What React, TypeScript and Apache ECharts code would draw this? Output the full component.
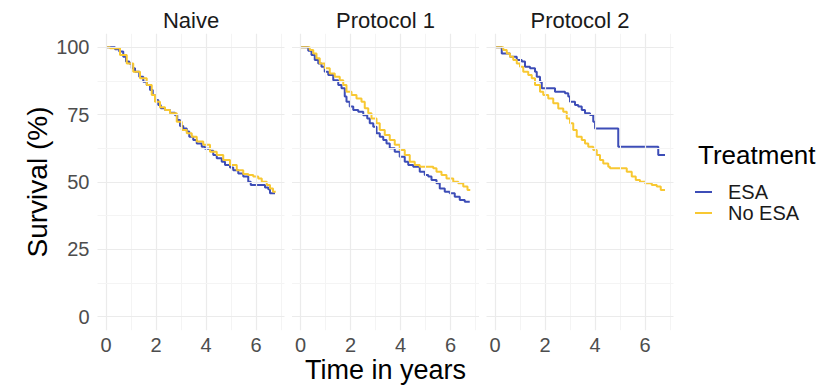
import React, { useEffect, useRef } from "react";
import * as echarts from "echarts";

const FONT = '"Liberation Sans", Arial, Helvetica, sans-serif';

const panels = ["Naive", "Protocol 1", "Protocol 2"];
const groups = ["ESA", "No ESA"];
const groupColors = ["#3D4DB7", "#F8C832"];

const xTicks = [0, 2, 4, 6];
const xMinor = [1, 3, 5, 7];
const yTicks = [0, 25, 50, 75, 100];
const yMinor = [12.5, 37.5, 62.5, 87.5];

// Kaplan-Meier steps: [time in years, survival %]
const naiveEsa = [
  [0, 100], [0.36, 99.3], [0.53, 98.4], [0.69, 96.5], [0.8, 94.7], [0.93, 94.0],
  [1.03, 92.2], [1.16, 90.9], [1.33, 89.1], [1.49, 87.2], [1.63, 86.0], [1.76, 84.1],
  [1.87, 82.3], [1.96, 80.4], [2.09, 78.6], [2.19, 77.4], [2.36, 76.7], [2.56, 75.7],
  [2.76, 74.8], [2.85, 73.0], [2.96, 70.8], [3.09, 69.9], [3.23, 68.7], [3.33, 66.8],
  [3.49, 65.6], [3.63, 64.3], [3.83, 63.1], [3.96, 62.3], [4.16, 61.6], [4.29, 60.0],
  [4.43, 58.8], [4.63, 57.5], [4.76, 56.3], [4.96, 55.4], [5.09, 54.4], [5.29, 53.2],
  [5.49, 52.0], [5.69, 50.1], [5.79, 48.9], [6.36, 48.0], [6.49, 47.3], [6.56, 45.8],
  [6.76, 45.8],
];
const naiveNoEsa = [
  [0, 100], [0.16, 99.6], [0.56, 97.1], [0.83, 94.0], [1.09, 90.9], [1.36, 88.5],
  [1.63, 86.0], [1.83, 82.3], [1.96, 79.8], [2.16, 77.7], [2.36, 76.7], [2.56, 75.5],
  [2.83, 72.4], [3.03, 69.3], [3.23, 68.1], [3.43, 66.8], [3.63, 65.0], [3.89, 63.8],
  [4.16, 61.2], [4.43, 60.0], [4.69, 58.2], [4.96, 56.3], [5.23, 54.4], [5.49, 53.0],
  [5.69, 52.6], [5.89, 52.0], [6.09, 51.3], [6.23, 50.1], [6.43, 48.9], [6.56, 47.6],
  [6.68, 46.4], [6.79, 46.4],
];
const p1Esa = [
  [0, 100], [0.31, 98.7], [0.44, 97.1], [0.57, 95.3], [0.71, 94.0], [0.84, 92.8],
  [0.97, 90.9], [1.11, 89.7], [1.31, 87.8], [1.51, 86.0], [1.64, 84.8], [1.77, 81.7],
  [1.84, 79.8], [1.97, 78.0], [2.11, 76.7], [2.31, 76.1], [2.51, 74.8], [2.67, 73.6],
  [2.77, 71.8], [2.91, 70.5], [3.04, 68.1], [3.17, 66.8], [3.31, 65.6], [3.44, 64.3],
  [3.57, 62.5], [3.77, 61.2], [3.97, 59.4], [4.17, 57.5], [4.31, 56.3], [4.51, 55.7],
  [4.77, 53.8], [4.97, 52.6], [5.11, 52.0], [5.24, 50.7], [5.44, 49.5], [5.57, 47.6],
  [5.77, 46.4], [5.97, 45.8], [6.17, 44.5], [6.37, 43.3], [6.57, 42.7], [6.77, 42.7],
];
const p1NoEsa = [
  [0, 100], [0.37, 99.0], [0.51, 97.7], [0.64, 95.9], [0.77, 94.0], [0.97, 92.2],
  [1.17, 90.3], [1.37, 89.1], [1.57, 87.8], [1.71, 86.0], [1.84, 83.5], [2.04, 82.3],
  [2.24, 81.0], [2.44, 79.8], [2.57, 77.4], [2.71, 75.5], [2.84, 73.6], [3.04, 71.8],
  [3.17, 69.3], [3.37, 67.4], [3.57, 65.6], [3.77, 63.8], [3.97, 61.9], [4.17, 60.0],
  [4.37, 57.5], [4.57, 56.3], [4.77, 55.7], [5.31, 55.1], [5.44, 53.8], [5.64, 52.6],
  [5.84, 51.3], [6.11, 50.1], [6.31, 49.5], [6.51, 48.3], [6.68, 47.0], [6.79, 47.0],
];
const p2Esa = [
  [0, 100], [0.27, 97.7], [0.6, 96.5], [0.87, 95.3], [1.07, 94.7], [1.2, 92.8],
  [1.4, 92.2], [1.6, 90.9], [1.67, 89.1], [1.8, 87.2], [1.87, 84.8], [2.4, 83.5],
  [2.8, 82.9], [2.93, 81.7], [3.0, 79.8], [3.2, 78.6], [3.33, 78.0], [3.47, 76.7],
  [3.6, 75.5], [3.8, 74.9], [3.93, 72.4], [4.0, 69.9], [4.93, 63.1], [6.53, 60.0],
  [6.8, 60.0],
];
const p2NoEsa = [
  [0, 100], [0.33, 99.0], [0.47, 97.7], [0.6, 96.5], [0.73, 95.3], [0.87, 94.0],
  [1.0, 92.8], [1.13, 90.9], [1.33, 89.7], [1.47, 88.5], [1.6, 86.0], [1.8, 83.5],
  [1.93, 82.3], [2.13, 81.0], [2.33, 79.2], [2.53, 77.3], [2.73, 76.1], [2.87, 73.6],
  [3.0, 71.8], [3.13, 69.3], [3.27, 66.8], [3.47, 65.6], [3.6, 64.3], [3.73, 63.1],
  [3.93, 61.9], [4.07, 60.0], [4.2, 58.2], [4.33, 56.9], [4.53, 55.7], [4.6, 55.1],
  [5.27, 53.8], [5.47, 52.0], [5.63, 50.7], [5.8, 50.1], [6.0, 49.5], [6.27, 48.9],
  [6.47, 48.3], [6.63, 47.0], [6.8, 47.0],
];

const panelData = [
  [naiveEsa, naiveNoEsa],
  [p1Esa, p1NoEsa],
  [p2Esa, p2NoEsa],
];

const X_MIN = -0.34;
const X_MAX = 7.14;
const Y_MIN = -5;
const Y_MAX = 105;

export default function App() {
  const ref = useRef<HTMLDivElement>(null);

  useEffect(() => {
    if (!ref.current) return;
    const chart = echarts.init(ref.current, null, { renderer: "svg" });

    const gridLefts = [97.5, 292, 486.5];
    const gridTop = 33.8;
    const gridW = 187;
    const gridH = 296.4;

    const grids = gridLefts.map((l) => ({
      left: l,
      top: gridTop,
      width: gridW,
      height: gridH,
      containLabel: false,
      outerBoundsMode: "none",
    }));

    const xAxes = panels.map((_, i) => ({
      type: "value",
      gridIndex: i,
      min: X_MIN,
      max: X_MAX,
      axisLine: { show: false },
      splitLine: { show: false },
      axisTick: {
        show: true,
        length: 4,
        customValues: xTicks,
        lineStyle: { color: "#666666", width: 1 },
      },
      axisLabel: {
        customValues: xTicks,
        margin: 6,
        fontSize: 20,
        lineHeight: 18,
        color: "#4D4D4D",
        fontFamily: FONT,
      },
      name: i === 1 ? "Time in years" : "",
      nameLocation: "middle",
      nameMoveOverlap: false,
      nameGap: 28,
      nameTextStyle: { fontSize: 27, lineHeight: 24, color: "#000000", fontFamily: FONT },
    }));

    const yAxes = panels.map((_, i) => ({
      type: "value",
      gridIndex: i,
      min: Y_MIN,
      max: Y_MAX,
      axisLine: { show: false },
      splitLine: { show: false },
      axisTick: {
        show: i === 0,
        length: 4,
        customValues: yTicks,
        lineStyle: { color: "#666666", width: 1 },
      },
      axisLabel: {
        show: i === 0,
        customValues: yTicks,
        margin: 8,
        fontSize: 20,
        color: "#4D4D4D",
        fontFamily: FONT,
      },
      name: i === 0 ? "Survival (%)" : "",
      nameLocation: "middle",
      nameRotate: 90,
      nameGap: 46,
      nameTextStyle: { fontSize: 28, lineHeight: 28, color: "#000000", fontFamily: FONT },
    }));

    const major = { color: "#EBEBEB", width: 1.2, type: "solid" };
    const minor = { color: "#F4F4F4", width: 1, type: "solid" };
    const gridLineData: any[] = [];
    xTicks.forEach((v) => gridLineData.push({ xAxis: v, lineStyle: major }));
    xMinor.forEach((v) => gridLineData.push({ xAxis: v, lineStyle: minor }));
    yTicks.forEach((v) => gridLineData.push({ yAxis: v, lineStyle: major }));
    yMinor.forEach((v) => gridLineData.push({ yAxis: v, lineStyle: minor }));

    const series: any[] = [];
    panels.forEach((_, i) => {
      series.push({
        type: "line",
        name: "grid" + i,
        xAxisIndex: i,
        yAxisIndex: i,
        data: [],
        z: 1,
        silent: true,
        markLine: {
          silent: true,
          symbol: ["none", "none"],
          label: { show: false },
          animation: false,
          lineStyle: { type: "solid", color: "#EBEBEB" },
          emphasis: { disabled: true },
          data: gridLineData,
        },
      });
      groups.forEach((g, k) => {
        series.push({
          type: "line",
          name: g,
          xAxisIndex: i,
          yAxisIndex: i,
          data: panelData[i][k],
          step: "end",
          showSymbol: false,
          symbol: "none",
          z: 3 + k,
          lineStyle: { color: groupColors[k], width: 2 },
          itemStyle: { color: groupColors[k] },
        });
      });
    });

    const panelCenters = gridLefts.map((l) => l + gridW / 2);

    chart.setOption({
      animation: false,
      backgroundColor: "#FFFFFF",
      grid: grids,
      xAxis: xAxes,
      yAxis: yAxes,
      series,
      legend: {
        data: groups,
        orient: "vertical",
        left: 695,
        top: 181.5,
        padding: 0,
        itemGap: 0,
        itemWidth: 17,
        itemHeight: 2,
        icon: "rect",
        selectedMode: false,
        textStyle: {
          fontSize: 20,
          lineHeight: 21,
          color: "#1A1A1A",
          fontFamily: FONT,
          padding: [0, 0, 0, 11],
        },
      },
      graphic: [
        ...panels.map((p, i) => ({
          type: "text",
          x: panelCenters[i],
          y: 20,
          style: {
            text: p,
            align: "center",
            verticalAlign: "middle",
            fontSize: 22,
            fill: "#1A1A1A",
            fontFamily: FONT,
          },
        })),
        {
          type: "text",
          x: 698,
          y: 155,
          style: {
            text: "Treatment",
            align: "left",
            verticalAlign: "middle",
            fontSize: 26,
            fill: "#000000",
            fontFamily: FONT,
          },
        },
      ],
    });

    return () => chart.dispose();
  }, []);

  return (
    <div
      ref={ref}
      style={{ position: "fixed", left: 0, top: 0, width: 825, height: 387 }}
    />
  );
}
